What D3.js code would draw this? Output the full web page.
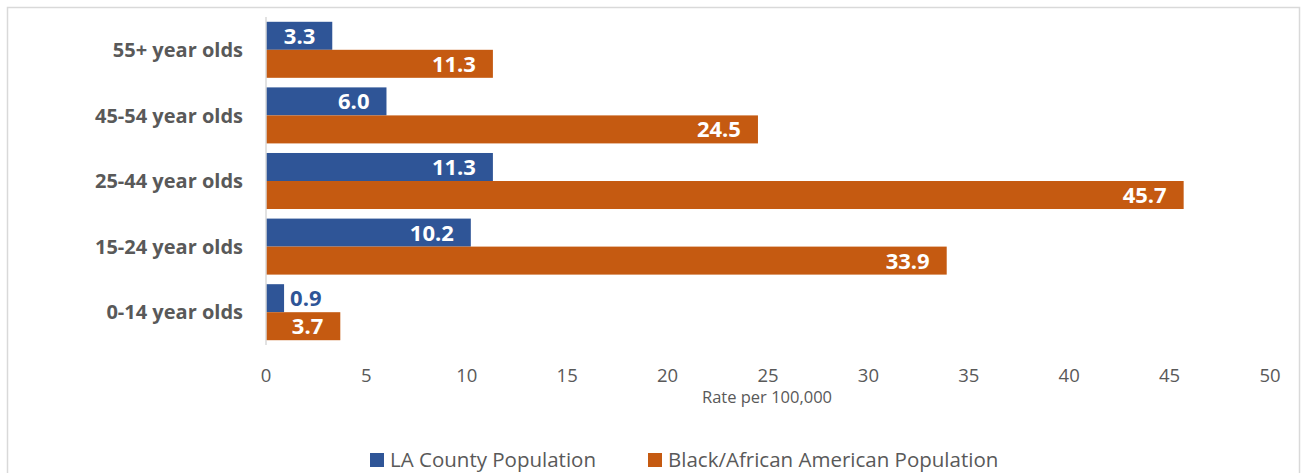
<!DOCTYPE html>
<html><head><meta charset="utf-8">
<script src="https://cdn.jsdelivr.net/npm/d3@7"></script>
<style>body{margin:0;background:#fff;} svg{display:block;}</style>
</head><body>
<svg id="c" width="1302" height="473"></svg>
<script>
const categories = ["55+ year olds","45-54 year olds","25-44 year olds","15-24 year olds","0-14 year olds"];
const laCounty = [3.3, 6.0, 11.3, 10.2, 0.9];
const black = [11.3, 24.5, 45.7, 33.9, 3.7];
const seriesNames = ["LA County Population","Black/African American Population"];
const xTicks = [0,5,10,15,20,25,30,35,40,45,50];
const colors = ["#2F5597","#C55A11"];

const svg = d3.select("#c");
const font = "'Open Sans', sans-serif";
svg.append("rect").attr("x",7.5).attr("y",7.5).attr("width",1292).attr("height",480)
  .attr("fill","#fff").attr("stroke","#d9d9d9").attr("stroke-width",1.5);

const x = d3.scaleLinear().domain([0,50]).range([266,1270]);
const y = d3.scaleBand().domain(categories).range([17,345]).paddingInner(0.146).paddingOuter(0.073);
const y2 = d3.scaleBand().domain([0,1]).range([0,y.bandwidth()]);

const series = [laCounty, black];
series.forEach((vals,si)=>{
  const g = svg.append("g");
  g.selectAll("rect").data(vals).join("rect")
    .attr("x", x(0)).attr("y",(d,i)=>y(categories[i])+y2(si))
    .attr("width", d=>x(d)-x(0)).attr("height", y2.bandwidth())
    .attr("fill", colors[si]);
  g.selectAll("text").data(vals).join("text")
    .attr("x", d=> (x(d)-x(0) < 40) ? x(d)+6 : x(d)-17)
    .attr("text-anchor", d=> (x(d)-x(0) < 40) ? "start" : "end")
    .attr("y",(d,i)=>y(categories[i])+y2(si)+y2.bandwidth()/2)
    .attr("dy","0.36em")
    .attr("fill", d=> (x(d)-x(0) < 40) ? colors[si] : "#fff")
    .attr("font-family",font).attr("font-weight","bold").attr("font-size",22)
    .text(d=>d.toFixed(1));
});

// axis line
svg.append("line").attr("x1",x(0)).attr("x2",x(0)).attr("y1",17).attr("y2",345)
  .attr("stroke","#d9d9d9").attr("stroke-width",1.5);

// category labels
svg.append("g").selectAll("text").data(categories).join("text")
  .attr("x",243).attr("y",d=>y(d)+y.bandwidth()/2).attr("dy","0.36em")
  .attr("text-anchor","end").attr("font-family",font).attr("font-weight","bold")
  .attr("font-size",20).attr("fill","#595959").text(d=>d);

// x ticks
svg.append("g").selectAll("text").data(xTicks).join("text")
  .attr("x",d=>x(d)).attr("y",375).attr("dy","0.36em").attr("text-anchor","middle")
  .attr("font-family",font).attr("font-size",18.5).attr("fill","#595959").text(d=>d);

svg.append("text").attr("x",767).attr("y",397).attr("dy","0.36em").attr("text-anchor","middle")
  .attr("font-family",font).attr("font-size",16.5).attr("fill","#595959").text("Rate per 100,000");

// legend
const legX = [370, 648];
seriesNames.forEach((n,i)=>{
  svg.append("rect").attr("x",legX[i]).attr("y",453).attr("width",14).attr("height",14).attr("fill",colors[i]);
  svg.append("text").attr("x",legX[i]+20).attr("y",460).attr("dy","0.36em")
    .attr("font-family",font).attr("font-size",20.5).attr("fill","#595959").text(n);
});
</script>
</body></html>
